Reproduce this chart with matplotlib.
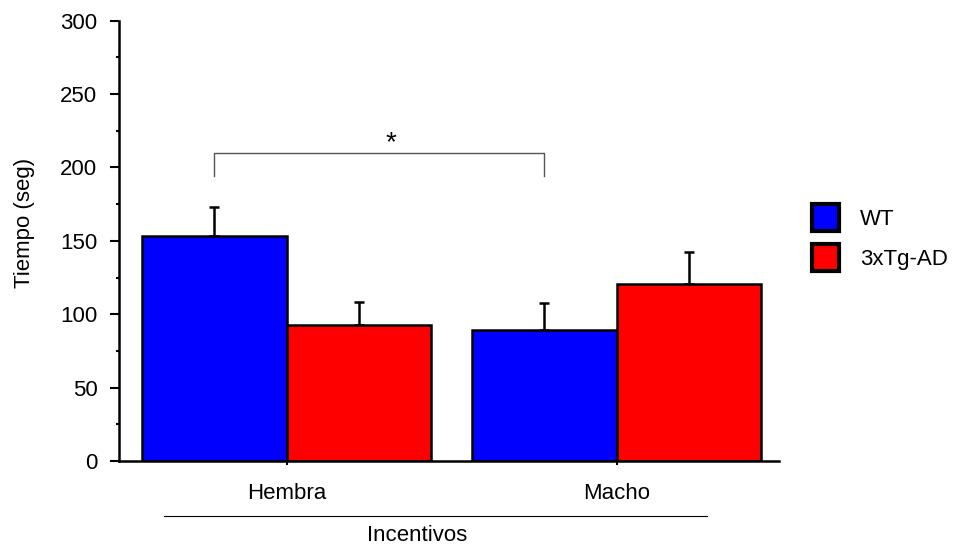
import matplotlib.pyplot as plt
from matplotlib.patches import Patch
import numpy as np

plt.rcParams['font.family'] = ['Liberation Sans', 'DejaVu Sans']

# data
groups = ['Hembra', 'Macho']
series = ['WT', '3xTg-AD']
wt_mean = [153, 89]
wt_sem = [20, 19]
tg_mean = [92.5, 120.5]
tg_sem = [16, 22]
colors = ['#0000ff', '#ff0000']

fs = 16
fig = plt.figure(figsize=(9.61, 5.46), dpi=100)
ax = fig.add_axes([0.1238, 0.1557, 0.6868, 0.8063])

x = np.array([0.0, 2.285])
w = 1.0
err_kw = dict(ecolor='black', elinewidth=1.8, capsize=3.5, capthick=1.8)
ax.bar(x, wt_mean, w, color=colors[0], edgecolor='black', linewidth=1.8,
       yerr=[np.zeros(2), wt_sem], error_kw=err_kw, zorder=2)
ax.bar(x + w, tg_mean, w, color=colors[1], edgecolor='black', linewidth=1.8,
       yerr=[np.zeros(2), tg_sem], error_kw=err_kw, zorder=2)

ax.set_xlim(-0.661, 3.909)
ax.set_ylim(0, 300)
ax.set_yticks(np.arange(0, 301, 50))
ax.set_yticks(np.arange(25, 300, 50), minor=True)
ax.tick_params(axis='y', which='major', length=6.5, width=1.5, labelsize=fs, pad=9)
ax.tick_params(axis='y', which='minor', length=2.5, width=1.5)
ax.set_xticks(x + w / 2)
ax.set_xticklabels([])
ax.tick_params(axis='x', length=3, width=1.5)
for s in ['top', 'right']:
    ax.spines[s].set_visible(False)
ax.spines['left'].set_linewidth(1.8)
ax.spines['bottom'].set_linewidth(1.8)
ax.set_ylabel('Tiempo (seg)', fontsize=fs)
ax.yaxis.set_label_coords(-0.127, 0.54)

# group labels below axis
for xi, g in zip(x + w / 2, groups):
    ax.text(xi, -22, g, ha='center', va='center', fontsize=fs, clip_on=False)
ax.plot([-0.35, 3.41], [-37.5, -37.5], color='black', lw=0.8, clip_on=False)
ax.text(1.4, -51, 'Incentivos', ha='center', va='center', fontsize=fs, clip_on=False)

# significance bracket
ax.plot([x[0], x[0], x[1], x[1]], [194, 210, 210, 194], color='#555555', lw=1)
ax.text(1.222, 208, '*', ha='center', va='bottom', fontsize=20)

handles = [Patch(facecolor=c, edgecolor='black', linewidth=3) for c in colors]
fig.legend(handles, series, loc='center left', bbox_to_anchor=(0.8245, 0.565),
           frameon=False, fontsize=fs, handlelength=1.2, handleheight=1.45,
           labelspacing=0.6, handletextpad=0.95)

fig.savefig('out.png', dpi=100)
